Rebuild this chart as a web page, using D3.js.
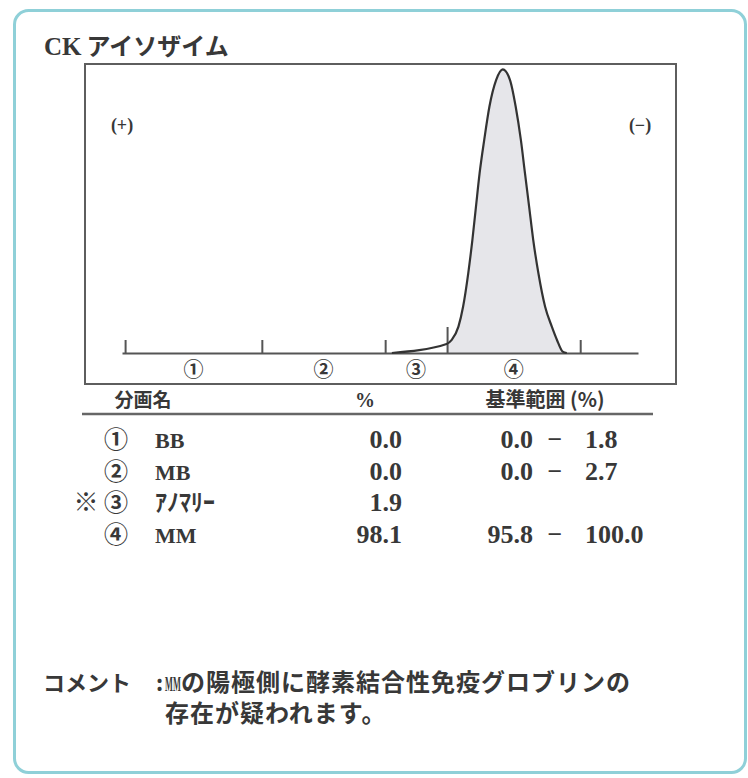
<!DOCTYPE html>
<html>
<head>
<meta charset="utf-8">
<script src="https://cdn.jsdelivr.net/npm/d3@7"></script>
<style>
  body { margin: 0; background: #fff; }
  svg text { fill: #383838; }
</style>
</head>
<body>
<div id="chart-area"></div>
<script>
// electrophoresis trace (mobility 0-100, density 0-100)
let mobility = [52.3, 62.9, 63.9, 65.2, 66.1, 67.1, 67.9, 68.6, 69.3, 70.2, 71.2, 72.5, 73.8,
	75.2, 76.3, 77.3, 78.1, 78.9, 79.7, 80.7, 82.0, 83.3, 84.3, 85.4, 86.2];
let density = [0, 3.2, 4.6, 9.3, 16.3, 28.1, 39.8, 51.6, 63.3, 75.1, 86.8, 96.2, 100,
	96.2, 86.8, 75.1, 63.3, 51.6, 39.8, 28.1, 16.3, 9.3, 4.6, 0.5, 0];

// fraction boundaries on the mobility axis
let boundaries = [0.6, 27.1, 51.0, 63.0, 88.8];

// table
let marks = ['①', '②', '③', '④'];
let fractions = ['BB', 'MB', 'ｱﾉﾏﾘｰ', 'MM'];
let percents = ['0.0', '0.0', '1.9', '98.1'];
let refLow = ['0.0', '0.0', '', '95.8'];
let refHigh = ['1.8', '2.7', '', '100.0'];
let flagged = [false, false, true, false];

let W = 748, H = 778;
let JP = '"Noto Sans CJK JP", sans-serif';
let SERIF = '"Liberation Serif", "Noto Sans CJK JP", serif';

let svg = d3.select('#chart-area').append('svg')
	.attr('width', W)
	.attr('height', H);

// outer frame
svg.append('rect')
	.attr('x', 14.5).attr('y', 10.5)
	.attr('width', 731).attr('height', 762)
	.attr('rx', 14)
	.attr('fill', '#fff')
	.attr('stroke', '#8fd0d8')
	.attr('stroke-width', 3);

// title
let title = svg.append('text')
	.attr('x', 44).attr('y', 55)
	.attr('font-size', '25px')
	.attr('font-weight', 'bold');
title.append('tspan').attr('font-family', SERIF).text('CK');
title.append('tspan').attr('font-family', JP).attr('font-size', '24px').attr('dx', 5).text('アイソザイム');

// chart box
svg.append('rect')
	.attr('x', 85).attr('y', 64)
	.attr('width', 591).attr('height', 320)
	.attr('fill', 'none')
	.attr('stroke', '#5e5e5e')
	.attr('stroke-width', 2);

// scales
let x = d3.scaleLinear().domain([0, 100]).range([122, 638]);
let y = d3.scaleLinear().domain([0, 100]).range([353, 69.3]);

// filled MM peak
let fillPts = mobility.map((m, i) => [m, density[i]]).filter(p => p[0] >= boundaries[3] - 0.1);
svg.append('path')
	.datum(fillPts)
	.attr('fill', '#e6e6ea')
	.attr('d', d3.area()
		.x(d => x(d[0]))
		.y0(y(0))
		.y1(d => y(d[1]))
		.curve(d3.curveMonotoneX));

// baseline + boundary ticks
let axis = svg.append('g')
	.attr('transform', 'translate(0,' + y(0) + ')')
	.call(d3.axisTop(x).tickValues(boundaries).tickSize(13).tickSizeOuter(0).tickFormat(''));
axis.select('.domain').attr('stroke', '#555').attr('stroke-width', 2);
axis.selectAll('.tick line').attr('stroke', '#555').attr('stroke-width', 2);
axis.selectAll('.tick line').filter(d => d === boundaries[3]).attr('y2', -26);

// trace
svg.append('path')
	.datum(mobility.map((m, i) => [m, density[i]]))
	.attr('fill', 'none')
	.attr('stroke', '#333')
	.attr('stroke-width', 2.2)
	.attr('d', d3.line()
		.x(d => x(d[0]))
		.y(d => y(d[1]))
		.curve(d3.curveMonotoneX));

// fraction labels under the baseline
svg.selectAll('.frac-label')
	.data(d3.pairs(boundaries))
	.enter()
	.append('text')
		.attr('class', 'frac-label')
		.attr('x', d => x((d[0] + d[1]) / 2))
		.attr('y', 377)
		.attr('text-anchor', 'middle')
		.attr('font-family', JP)
		.attr('font-size', '20px')
		.attr('font-weight', 'bold')
		.text((d, i) => marks[i]);

// polarity
svg.append('text').attr('x', 122).attr('y', 131)
	.attr('text-anchor', 'middle').attr('font-family', SERIF).attr('font-size', '18px')
	.attr('font-weight', 'bold').text('(+)');
svg.append('text').attr('x', 640).attr('y', 131)
	.attr('text-anchor', 'middle').attr('font-family', SERIF).attr('font-size', '18px')
	.attr('font-weight', 'bold').text('(−)');

// table header
svg.append('text').attr('x', 143).attr('y', 407).attr('text-anchor', 'middle')
	.attr('font-family', JP).attr('font-size', '19px').attr('font-weight', 'bold').text('分画名');
svg.append('text').attr('x', 365).attr('y', 407).attr('text-anchor', 'middle')
	.attr('font-family', SERIF).attr('font-size', '20px').attr('font-weight', 'bold').text('%');
svg.append('text').attr('x', 545).attr('y', 407).attr('text-anchor', 'middle')
	.attr('font-family', JP).attr('font-size', '20px').attr('font-weight', 'bold').text('基準範囲 (%)');
svg.append('line')
	.attr('x1', 82).attr('x2', 653)
	.attr('y1', 414).attr('y2', 414)
	.attr('stroke', '#666').attr('stroke-width', 2.5);

// table rows
let row = d3.scalePoint().domain(d3.range(fractions.length)).range([448, 543]);

let rows = svg.selectAll('.row')
	.data(fractions)
	.enter()
	.append('g')
		.attr('class', 'row')
		.attr('font-weight', 'bold')
		.attr('transform', (d, i) => 'translate(0,' + row(i) + ')');

rows.filter((d, i) => flagged[i]).append('text')
	.attr('x', 86).attr('text-anchor', 'middle')
	.attr('font-family', JP).attr('font-size', '25px').attr('font-weight', 'normal').text('※');
rows.append('text')
	.attr('x', 116).attr('text-anchor', 'middle')
	.attr('font-family', JP).attr('font-size', '24px')
	.text((d, i) => marks[i]);
rows.append('text')
	.attr('x', 155)
	.attr('font-family', (d, i) => flagged[i] ? JP : SERIF)
	.attr('font-size', (d, i) => flagged[i] ? '24px' : '22px')
	.text(d => d);
rows.append('text')
	.attr('x', 402).attr('text-anchor', 'end')
	.attr('font-family', SERIF).attr('font-size', '26px')
	.text((d, i) => percents[i]);
rows.filter((d, i) => refLow[i] !== '').append('text')
	.attr('x', 533).attr('text-anchor', 'end')
	.attr('font-family', SERIF).attr('font-size', '26px')
	.text(d => refLow[fractions.indexOf(d)]);
rows.filter((d, i) => refLow[i] !== '').append('text')
	.attr('x', 555).attr('text-anchor', 'middle')
	.attr('font-family', SERIF).attr('font-size', '26px')
	.text('−');
rows.filter((d, i) => refHigh[i] !== '').append('text')
	.attr('x', 585)
	.attr('font-family', SERIF).attr('font-size', '26px')
	.text(d => refHigh[fractions.indexOf(d)]);

// comment
let comment = svg.append('g').attr('font-weight', 'bold');
comment.append('text').attr('x', 43).attr('y', 691)
	.attr('font-family', JP).attr('font-size', '22px').text('コメント');
comment.append('text').attr('x', 156).attr('y', 691)
	.attr('font-family', JP).attr('font-size', '22px').text(':');
// squeezed "MM" as in the print
comment.append('text')
	.attr('transform', 'translate(165,691) scale(0.38,1)')
	.attr('font-family', SERIF).attr('font-size', '22px').text('MM');
comment.append('text').attr('x', 181).attr('y', 691)
	.attr('font-family', JP).attr('font-size', '24px').attr('letter-spacing', '1px')
	.text('の陽極側に酵素結合性免疫グロブリンの');
comment.append('text').attr('x', 165).attr('y', 722)
	.attr('font-family', JP).attr('font-size', '24px').attr('letter-spacing', '1px')
	.text('存在が疑われます。');
</script>
</body>
</html>
